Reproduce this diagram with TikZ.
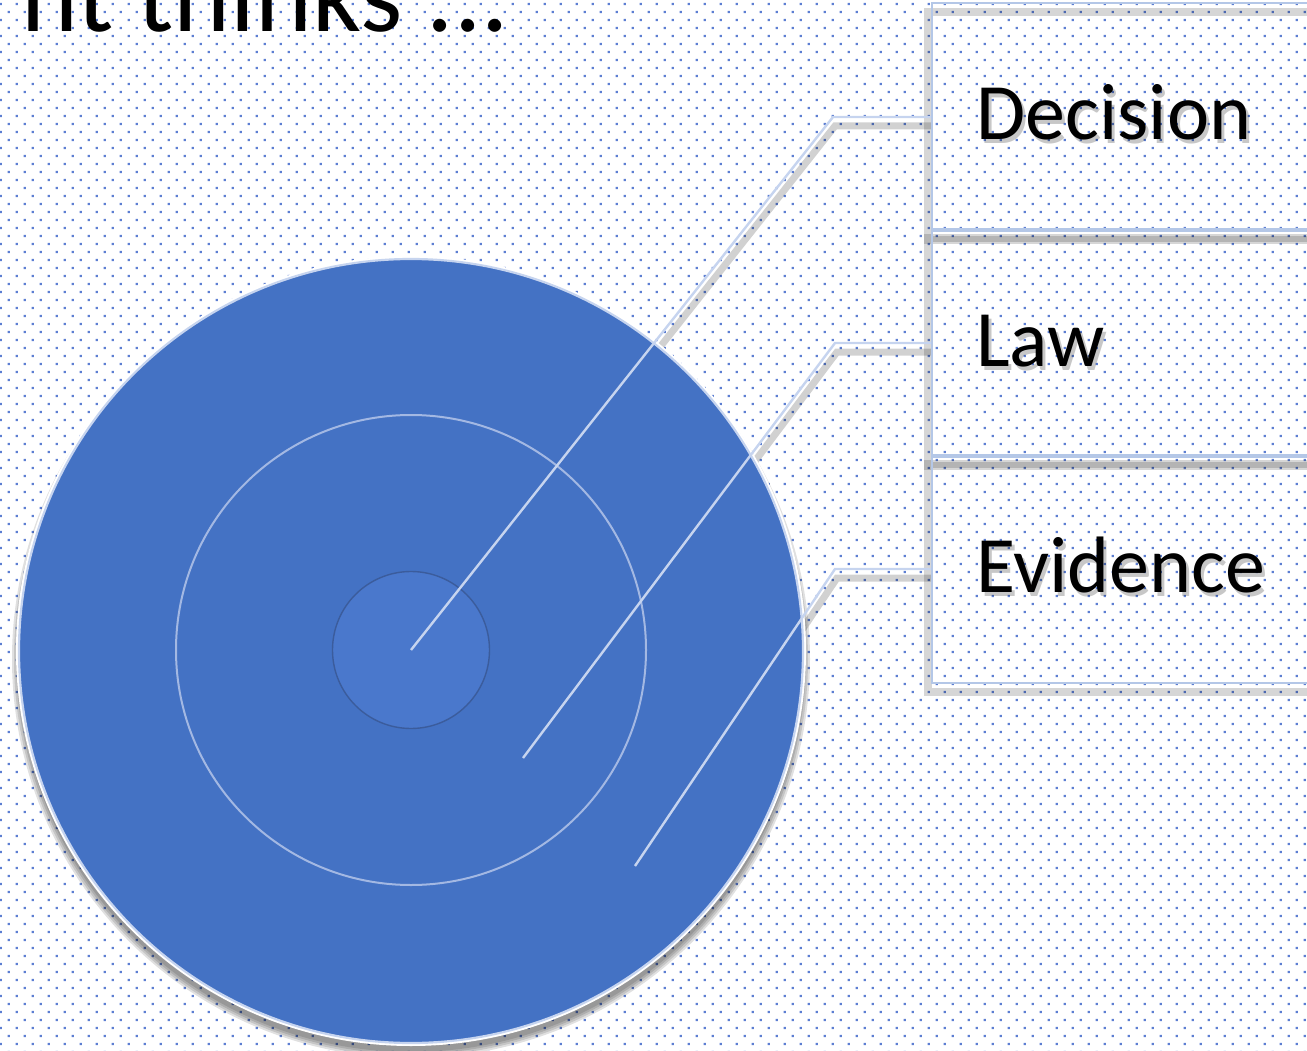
\documentclass[tikz,border=0pt]{standalone}
\usepackage{fontspec}
\setmainfont{Carlito}
\definecolor{dotc}{RGB}{92,126,210}
\definecolor{mainblue}{HTML}{4472C4}
\definecolor{centerblue}{HTML}{4A78CC}
\definecolor{centeredge}{HTML}{3B5C9C}
\definecolor{ringc}{HTML}{A3B8E3}
\definecolor{leadc}{HTML}{C6D4EF}
\definecolor{boxc}{HTML}{B4C7E7}
\begin{document}
\begin{tikzpicture}[x=1pt,y=-1pt,
  panel/.style={draw=boxc, line width=1.6pt, minimum width=474pt, minimum height=226pt, inner sep=0pt},
  panelshadow/.style={draw=black, draw opacity=0.16, line width=8pt},
  leader/.style={draw=leadc, line width=2.4pt},
  leadshadow/.style={draw=black, draw opacity=0.18, line width=7pt},
  lbl/.style={anchor=base west, inner sep=0pt, font=\fontsize{80}{96}\selectfont},
  lblshadow/.style={lbl, text=black, text opacity=0.22}
]
\useasboundingbox (0,0) rectangle (1307,1051);
\clip (0,0) rectangle (1307,1051);
% dotted background
\foreach \j in {0,...,131}{
  \pgfmathsetmacro\yy{4+8*\j}
  \pgfmathsetmacro\xo{ifthenelse(mod(\j,2)==0,0.7,8.7)}
  \fill[dotc] \foreach \i in {0,...,81}{ (\xo+16*\i-1.2,\yy-1.2) rectangle ++(2.4,2.4) };
}
% title
\node[anchor=base east, inner sep=0pt, font=\fontsize{108}{120}\selectfont] (title) at (509,32) {nt thinks ...};
% panels
\node[panel, draw=none] (b1) at (1170,117) {};
\node[panel, draw=none] (b2) at (1170,343) {};
\node[panel, draw=none] (b3) at (1170,569) {};
% coordinates of leaders
\coordinate (c) at (411,650);
\coordinate (s2) at (523,758);
\coordinate (s3) at (635,866);
\coordinate (k1) at (833,117);
\coordinate (k2) at (835,343);
\coordinate (k3) at (835,569);
% shadows of leaders and panels
\draw[leadshadow] ([shift={(2,9)}]c) -- ([shift={(2,9)}]k1) -- ([shift={(0,9)}]b1.west);
\draw[leadshadow] ([shift={(2,9)}]s2) -- ([shift={(2,9)}]k2) -- ([shift={(0,9)}]b2.west);
\draw[leadshadow] ([shift={(2,9)}]s3) -- ([shift={(2,9)}]k3) -- ([shift={(0,9)}]b3.west);
\foreach \b in {b1,b2,b3}{
  \draw[panelshadow] ([shift={(-4,9)}]\b.south west) rectangle ([shift={(-4,9)}]\b.north east);
}
% circle shadow
\foreach \r in {399,397,395,393}{
  \fill[black, opacity=0.12] (411,659) circle (\r pt);
}
% main circle
\fill[white] (411,651) circle (395pt);
\node[circle, fill=mainblue, draw=leadc, line width=2.2pt, minimum size=784pt, inner sep=0pt] (big) at (411,651) {};
\node[circle, draw=ringc, line width=2pt, minimum size=470pt, inner sep=0pt] (ring) at (411,650) {};
\node[circle, fill=centerblue, draw=centeredge, line width=1.4pt, minimum size=157pt, inner sep=0pt] (core) at (411,650) {};
% leaders
\draw[leader] (c) -- (k1) -- (b1.west);
\draw[leader] (s2) -- (k2) -- (b2.west);
\draw[leader] (s3) -- (k3) -- (b3.west);
% panels
\foreach \b in {b1,b2,b3}{
  \draw[draw=boxc, line width=1.6pt] (\b.south west) rectangle (\b.north east);
}
% labels
\node[lblshadow] (l1s) at (979,144) {Decision};
\node[lblshadow] (l2s) at (979,370) {Law};
\node[lblshadow] (l3s) at (979,596) {Evidence};
\node[lbl] (l1) at (976,140) {Decision};
\node[lbl] (l2) at (976,366) {Law};
\node[lbl] (l3) at (976,592) {Evidence};
\end{tikzpicture}
\end{document}
